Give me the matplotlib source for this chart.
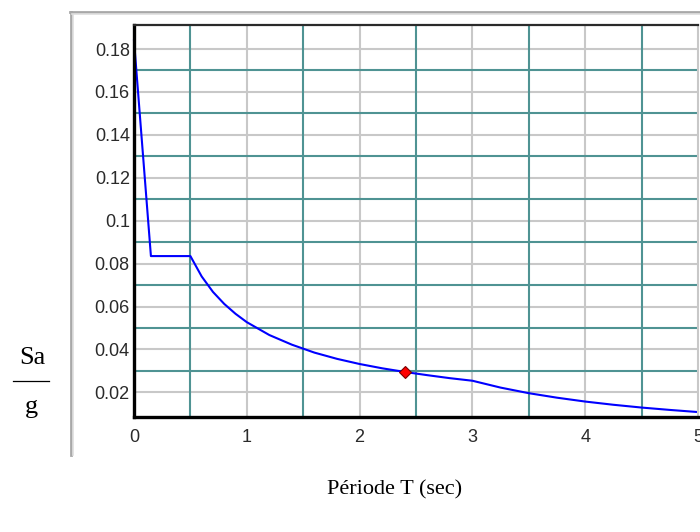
import matplotlib
matplotlib.use("Agg")
import matplotlib.pyplot as plt
from matplotlib.lines import Line2D

# Design response spectrum Sa/g versus period T (s)
periods = [0.0, 0.15, 0.5, 0.6, 0.7, 0.8, 0.9, 1.0, 1.2, 1.4, 1.6, 1.8, 2.0,
           2.2, 2.4, 2.6, 2.8, 3.0, 3.25, 3.5, 3.75, 4.0, 4.25, 4.5, 4.75, 5.0]
sa_g = [0.184, 0.0835, 0.0835, 0.0740, 0.0668, 0.0612, 0.0566, 0.0527, 0.0467,
        0.0422, 0.0385, 0.0356, 0.0332, 0.0312, 0.0295, 0.0280, 0.0266, 0.0254,
        0.0222, 0.0196, 0.0175, 0.0157, 0.0142, 0.0129, 0.0118, 0.0108]

# Structure's fundamental period and its spectral value
point_T = [2.4]
point_sa = [0.0295]

x_ticks = [0, 1, 2, 3, 4, 5]
x_ticklabels = ["0", "1", "2", "3", "4", "5"]
y_ticks = [0.02, 0.04, 0.06, 0.08, 0.1, 0.12, 0.14, 0.16, 0.18]
y_ticklabels = ["0.02", "0.04", "0.06", "0.08", "0.1", "0.12", "0.14", "0.16", "0.18"]
x_major_grid = [0.5, 1.5, 2.5, 3.5, 4.5]
x_minor_grid = [1, 2, 3, 4]
y_major_grid = [0.03, 0.05, 0.07, 0.09, 0.11, 0.13, 0.15, 0.17]
y_minor_grid = [0.02, 0.04, 0.06, 0.08, 0.1, 0.12, 0.14, 0.16, 0.18]

W, H = 700, 532
fig = plt.figure(figsize=(W / 100, H / 100), dpi=100)
fig.patch.set_facecolor("white")

def fx(px):
    return px / W

def fy(py):
    return 1 - py / H

# Panel frame
fig.add_artist(Line2D([fx(71), fx(71)], [fy(12), fy(455)], color="#a8a8a8", lw=2.0))
fig.add_artist(Line2D([fx(73), fx(73)], [fy(14), fy(455)], color="#dedede", lw=1.2))
fig.add_artist(Line2D([fx(70), fx(702)], [fy(12), fy(12)], color="#a8a8a8", lw=2.0))
fig.add_artist(Line2D([fx(72), fx(702)], [fy(14), fy(14)], color="#dedede", lw=1.2))

ax = fig.add_axes([fx(134), fy(417), fx(698) - fx(134), fy(25) - fy(417)])
ax.set_xlim(0, 5)
ax.set_ylim(0.0085, 0.1912)

# Grid
for x in x_minor_grid:
    ax.axvline(x, color="#c8c8c8", lw=1.5, zorder=1)
for y in y_minor_grid:
    ax.axhline(y, color="#c8c8c8", lw=1.5, zorder=1)
for x in x_major_grid:
    ax.axvline(x, color="#4f9393", lw=1.5, zorder=2)
for y in y_major_grid:
    ax.axhline(y, color="#4f9393", lw=1.5, zorder=2)

ax.plot(periods, sa_g, color="#0000ff", lw=1.5, zorder=3, clip_on=False)
ax.plot(point_T, point_sa, marker="D", markersize=6.5, color="#ff0000",
        markeredgecolor="#7a0000", markeredgewidth=0.8, linestyle="none", zorder=4)

ax.set_xticks(x_ticks)
ax.set_xticklabels(x_ticklabels)
ax.set_yticks(y_ticks)
ax.set_yticklabels(y_ticklabels)
ax.tick_params(axis="both", length=0, labelsize=13, colors="#2a2a2a",
               labelfontfamily="Liberation Sans")
ax.tick_params(axis="x", pad=9)
ax.tick_params(axis="y", pad=3)

ax.spines["left"].set_linewidth(2.4)
ax.spines["bottom"].set_linewidth(2.4)
ax.spines["left"].set_color("black")
ax.spines["bottom"].set_color("black")
ax.spines["top"].set_linewidth(1.6)
ax.spines["top"].set_color("#2a2a2a")
ax.spines["right"].set_linewidth(1.5)
ax.spines["right"].set_color("#c8c8c8")
for s in ax.spines.values():
    s.set_zorder(5)

# Axis titles
serif = "Liberation Serif"
fig.text(fx(395), fy(490), "Période T (sec)", fontsize=16, family=serif,
         ha="center", va="center", color="black")
fig.text(fx(32), fy(358), "Sa", fontsize=19, family=serif,
         ha="center", va="center", color="black")
fig.add_artist(Line2D([fx(13), fx(49)], [fy(381), fy(381)], color="black", lw=0.9))
fig.text(fx(31), fy(407), "g", fontsize=19, family=serif,
         ha="center", va="center", color="black")

fig.savefig("out.png", dpi=100)
